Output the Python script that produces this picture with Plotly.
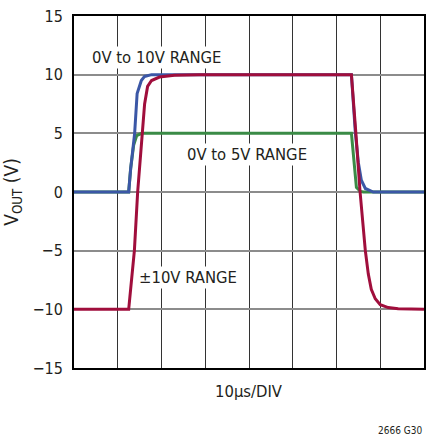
import plotly.graph_objects as go

# time in microseconds (10us per division), output in volts
t_0to10 = [0, 12.5, 12.95, 13.86, 14.43, 15.39, 16.14, 17.73, 63.41, 64.32, 65.0, 65.68, 66.59, 68.41, 80]
v_0to10 = [0, 0, 2, 5, 8.4, 9.5, 9.85, 10, 10, 5, 2.5, 1, 0.3, 0, 0]

t_0to5 = [0, 12.5, 12.95, 13.64, 14.32, 15.45, 63.41, 63.64, 64.25, 64.55, 65.45, 66.14, 80]
v_0to5 = [0, 0, 2, 4, 4.8, 5, 5, 4, 1, 0.4, 0.05, 0, 0]

t_pm10 = [0, 12.5, 13.8, 14.55, 15.61, 16.14, 16.82, 17.73, 19.55, 22.95, 28.6,
          63.41, 64.43, 65.39, 66.59, 67.27, 67.95, 68.86, 70.0, 71.82, 74.1, 80]
v_pm10 = [-10, -10, -5, 0, 5, 7.5, 9.0, 9.5, 9.8, 9.95, 10,
          10, 5, 0, -5, -7, -8.3, -9.1, -9.6, -9.85, -9.95, -10]

FONT = "Liberation Sans Narrow, DejaVu Sans Condensed, sans-serif"
INK = "#231f20"

fig = go.Figure()
fig.add_trace(go.Scatter(x=t_0to5, y=v_0to5, mode="lines", line=dict(color="#3a8b46", width=3)))
fig.add_trace(go.Scatter(x=t_0to10, y=v_0to10, mode="lines", line=dict(color="#3b57a6", width=3)))
fig.add_trace(go.Scatter(x=t_pm10, y=v_pm10, mode="lines", line=dict(color="#a00e3c", width=3)))

labels = [("0V to 10V RANGE", 18.9, 11.5), ("0V to 5V RANGE", 39.5, 3.2), ("±10V RANGE", 26.1, -7.3)]
for txt, x, y in labels:
    fig.add_annotation(x=x, y=y, text=txt, showarrow=False, bgcolor="white",
                       font=dict(size=16.5, color=INK), borderpad=1)

fig.add_annotation(x=0.5, y=-0.035, xref="paper", yref="paper", yanchor="top", text="10µs/DIV",
                   showarrow=False, font=dict(size=16.5, color=INK))
fig.add_annotation(x=1.0, y=-0.155, xref="paper", yref="paper", xanchor="right", yanchor="top",
                   text="2666 G30", showarrow=False, font=dict(size=10, color=INK))

fig.update_layout(
    width=427, height=438,
    margin=dict(l=74, r=1, t=16, b=70),
    plot_bgcolor="white", paper_bgcolor="white",
    showlegend=False,
    font=dict(family=FONT, size=16, color=INK),
)
fig.update_xaxes(range=[0, 80], dtick=10, showticklabels=False, showgrid=True, gridcolor="#333333",
                 gridwidth=1, zeroline=False, showline=True, mirror=True, linecolor="black", linewidth=2)
fig.update_yaxes(range=[-15, 15], dtick=5, showgrid=True, gridcolor="#8c8c8c", gridwidth=1.5,
                 zeroline=False, showline=True, mirror=True, linecolor="black", linewidth=2,
                 ticklabelstandoff=6, title=dict(text="V<sub>OUT</sub> (V)", standoff=14))

# drop the default 8px page margin so the figure fills the window
fig.write_html("out.html", config={"displayModeBar": False},
               post_script="document.body.style.margin='0';")
